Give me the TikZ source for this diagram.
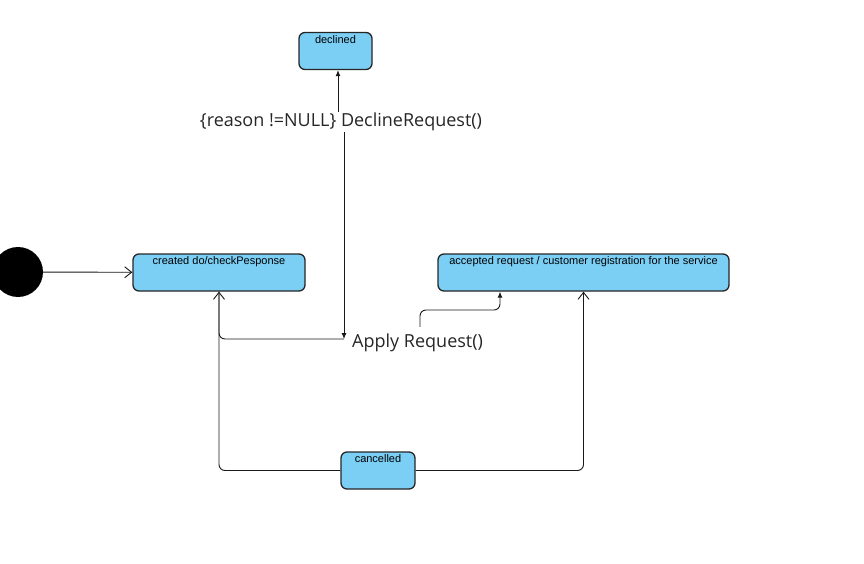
\documentclass[tikz,border=0pt]{standalone}
\usepackage{fontspec}
\setmainfont{Liberation Sans}
\newfontfamily\labelfont{Open Sans}
\usetikzlibrary{arrows.meta}
\definecolor{statefill}{RGB}{123,207,245}
\tikzset{
  state/.style={draw=black!85,line width=1.3pt,fill=statefill,rounded corners=6pt,
    minimum width=#1,minimum height=37pt,inner sep=0pt},
  state text/.style={anchor=north,inner sep=0pt,yshift=-3pt,font=\fontsize{11}{13}\selectfont},
  trans/.style={draw=black!90,line width=0.9pt,rounded corners=6pt},
  open/.style={-{Straight Barb[length=7pt,width=11pt,line width=0.9pt]}},
  filled/.style={-{Latex[length=6pt,width=5pt]}},
  guard/.style={inner sep=1pt,font=\labelfont\fontsize{18}{21}\selectfont,text=black!85}
}
\begin{document}
\begin{tikzpicture}[x=1pt,y=-1pt]
  \useasboundingbox (0,0) rectangle (864,564);

  % initial state
  \node[circle,fill=black,minimum size=50pt,inner sep=0pt] (I) at (18,272) {};

  % states
  \node[state=172pt,label={[state text]north:created do/checkPesponse}] (C) at (219,272.5) {};
  \node[state=291pt,label={[state text]north:accepted request / customer registration for the service}] (A) at (583.5,272.5) {};
  \node[state=73pt,label={[state text]north:declined}] (D) at (335.5,51) {};
  \node[state=74pt,label={[state text]north:cancelled}] (X) at (378,470.5) {};

  % transition labels
  \node[guard] (G) at (341,122) {\{reason !=NULL\} DeclineRequest()};
  \node[guard,anchor=west] (R) at (351,343) {Apply Request()};
  \coordinate (J) at (344,339);

  % transitions
  \draw[trans,open] (I) -- (C);
  \draw[trans,filled] (G.north -| 338,0) -- (D.south -| 338,0);
  \draw[trans,filled] (G.south -| J) -- (J);
  \draw[trans] (J) -| (C.south);
  \draw[trans,open] (X.west) -| (C.south);
  \draw[trans,filled] ([yshift=6pt]R.north -| 420,0) |- (460,310) -| (A.south -| 500,0);
  \draw[trans,open] (X.east) -| (A.south);
\end{tikzpicture}
\end{document}
